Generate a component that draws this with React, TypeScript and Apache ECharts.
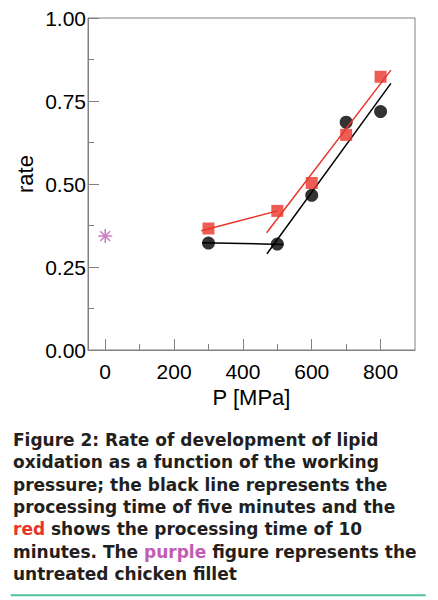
import React, { useEffect, useRef } from "react";
import * as echarts from "echarts";

// ---- data ----
const majorXTicks = [0, 200, 400, 600, 800];
const minorXTicks = [100, 300, 500, 700];
const fiveMinPoints: [number, number][] = [
  [300, 0.322],
  [500, 0.319],
  [600, 0.466],
  [700, 0.686],
  [800, 0.718],
];
const tenMinPoints: [number, number][] = [
  [300, 0.366],
  [500, 0.419],
  [600, 0.503],
  [700, 0.648],
  [800, 0.823],
];
const fiveMinPlateau: [number, number][] = [
  [282, 0.323],
  [518, 0.318],
];
const fiveMinFit: [number, number][] = [
  [470, 0.29],
  [830, 0.803],
];
const tenMinPlateau: [number, number][] = [
  [279, 0.359],
  [500, 0.419],
];
const tenMinFit: [number, number][] = [
  [469, 0.353],
  [830, 0.843],
];
const untreatedPoint: [number, number][] = [[0, 0.343]];

const captionLines = [
  "Figure 2: Rate of development of lipid",
  "oxidation as a function of the working",
  "pressure; the black line represents the",
  "processing time of five minutes and the",
  "{r|red} shows the processing time of 10",
  "minutes. The {p|purple} figure represents the",
  "untreated chicken fillet",
];

const RED = "#e8352b";
const PURPLE = "#c25bb2";
const AXIS_GRAY = "#808080";
const AXIS_FONT = "Liberation Sans";
const CAP_FONT = "DejaVu Sans";

const asteriskPath =
  "path://M5,0L5,10M0,5L10,5M1.46,1.46L8.54,8.54M1.46,8.54L8.54,1.46";

export default function App() {
  const ref = useRef<HTMLDivElement>(null);

  useEffect(() => {
    if (!ref.current) return;
    const chart = echarts.init(ref.current, undefined, { renderer: "svg" });
    const capStyle = {
      fontSize: 17,
      fontFamily: CAP_FONT,
      fontWeight: "bold",
      lineHeight: 22.3,
    };
    chart.setOption({
      animation: false,
      backgroundColor: "#ffffff",
      textStyle: { fontFamily: AXIS_FONT },
      grid: {
        left: 88,
        top: 18,
        right: 23,
        bottom: 250,
        show: true,
        borderColor: AXIS_GRAY,
        borderWidth: 1,
        backgroundColor: "transparent",
      },
      xAxis: [
        {
          type: "value",
          min: -50,
          max: 900,
          position: "bottom",
          name: "P [MPa]",
          nameLocation: "middle",
          nameGap: 35,
          nameTextStyle: { fontSize: 22, color: "#000", fontFamily: AXIS_FONT },
          splitLine: { show: false },
          axisLine: {
            show: true,
            onZero: false,
            lineStyle: { color: AXIS_GRAY, width: 1 },
          },
          axisTick: {
            show: true,
            inside: true,
            length: 11,
            customValues: majorXTicks,
            lineStyle: { color: AXIS_GRAY, width: 1 },
          },
          axisLabel: {
            customValues: majorXTicks,
            fontSize: 21,
            color: "#000",
            margin: 11,
            fontFamily: AXIS_FONT,
          },
        },
        {
          type: "value",
          min: -50,
          max: 900,
          position: "bottom",
          offset: 0,
          splitLine: { show: false },
          axisLine: { show: false, onZero: false },
          axisTick: {
            show: true,
            inside: true,
            length: 6,
            customValues: minorXTicks,
            lineStyle: { color: AXIS_GRAY, width: 1 },
          },
          axisLabel: { show: false },
        },
      ],
      yAxis: {
        type: "value",
        min: 0,
        max: 1,
        interval: 0.25,
        splitLine: { show: false },
        axisLine: {
          show: true,
          onZero: false,
          lineStyle: { color: AXIS_GRAY, width: 1 },
        },
        axisTick: {
          show: true,
          inside: true,
          length: 11,
          lineStyle: { color: AXIS_GRAY, width: 1 },
        },
        minorTick: {
          show: true,
          splitNumber: 2,
          length: 6,
          lineStyle: { color: AXIS_GRAY, width: 1 },
        },
        axisLabel: {
          fontSize: 21,
          color: "#000",
          margin: 2,
          fontFamily: AXIS_FONT,
          formatter: (v: number) => v.toFixed(2),
        },
      },
      series: [
        {
          name: "5 min plateau",
          type: "line",
          data: fiveMinPlateau,
          showSymbol: false,
          lineStyle: { color: "#000", width: 1.5 },
          z: 2,
        },
        {
          name: "5 min fit",
          type: "line",
          data: fiveMinFit,
          showSymbol: false,
          lineStyle: { color: "#000", width: 1.5 },
          z: 2,
        },
        {
          name: "5 min",
          type: "scatter",
          data: fiveMinPoints,
          symbol: "circle",
          symbolSize: 13,
          itemStyle: { color: "#000" },
          z: 3,
        },
        {
          name: "10 min plateau",
          type: "line",
          data: tenMinPlateau,
          showSymbol: false,
          lineStyle: { color: RED, width: 1.5 },
          z: 4,
        },
        {
          name: "10 min fit",
          type: "line",
          data: tenMinFit,
          showSymbol: false,
          lineStyle: { color: RED, width: 1.5 },
          z: 4,
        },
        {
          name: "10 min",
          type: "scatter",
          data: tenMinPoints,
          symbol: "rect",
          symbolSize: 12,
          itemStyle: { color: RED },
          z: 5,
        },
        {
          name: "untreated",
          type: "scatter",
          data: untreatedPoint,
          symbol: asteriskPath,
          symbolSize: 14,
          itemStyle: { color: PURPLE, borderColor: PURPLE, borderWidth: 1.5 },
          z: 5,
        },
      ],
      graphic: [
        {
          type: "text",
          x: 25,
          y: 174,
          rotation: Math.PI / 2,
          style: {
            text: "rate",
            font: "22px 'Liberation Sans', Arial, sans-serif",
            fill: "#000",
            align: "center",
            verticalAlign: "middle",
          },
        },
        {
          type: "text",
          x: 13,
          y: 429,
          style: {
            text: captionLines.join("\n"),
            ...capStyle,
            fill: "#231f20",
            align: "left",
            verticalAlign: "top",
            rich: {
              r: { ...capStyle, fill: RED },
              p: { ...capStyle, fill: PURPLE },
            },
          },
        },
        {
          type: "line",
          shape: { x1: 10.7, y1: 595.3, x2: 425.7, y2: 595.3 },
          style: { stroke: "#4fc39a", lineWidth: 2 },
        },
      ],
    });
    return () => chart.dispose();
  }, []);

  return (
    <div
      ref={ref}
      style={{ position: "absolute", left: 0, top: 0, width: 438, height: 600 }}
    />
  );
}
